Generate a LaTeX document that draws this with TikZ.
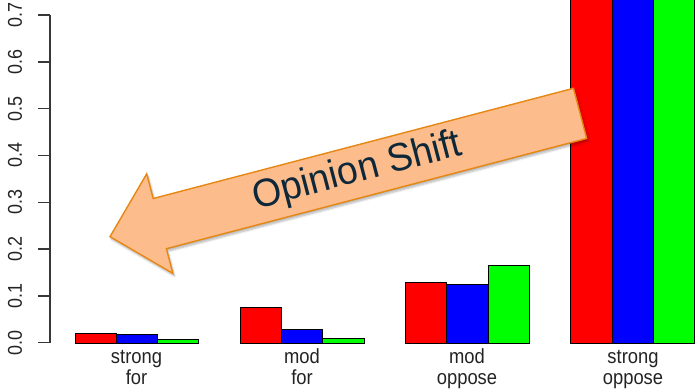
\documentclass[tikz,border=0pt]{standalone}
\usepackage{fontspec}
\setmainfont{Liberation Sans}
\usetikzlibrary{shadows.blur}
\definecolor{barred}{RGB}{255,0,0}
\definecolor{barblue}{RGB}{0,0,255}
\definecolor{bargreen}{RGB}{0,255,0}
\definecolor{axisgray}{RGB}{55,55,55}
\definecolor{labgray}{RGB}{35,35,35}
\definecolor{arrowfill}{RGB}{252,188,140}
\definecolor{arrowline}{RGB}{230,135,20}
\definecolor{shifttext}{RGB}{14,40,58}
\begin{document}
\begin{tikzpicture}[x=1bp,y=-1bp,
  barbox/.style={draw=black,line width=1bp},
  axisline/.style={draw=axisgray,line width=1.4bp},
  ticklab/.style={font=\fontsize{20}{20}\selectfont,text=labgray,rotate=90,inner sep=0pt},
  barlab/.style={font=\fontsize{20.5}{20.5}\selectfont,text=labgray,inner sep=0pt,anchor=base},
  shiftarrow/.style={fill=arrowfill,draw=arrowline,line width=1.4bp,line join=miter,
    blur shadow={shadow xshift=1.5bp,shadow yshift=-2.5bp,shadow blur steps=6,shadow opacity=30}},
  shiftlab/.style={font=\fontsize{39.5}{39.5}\selectfont,text=shifttext,inner sep=0pt}]
\useasboundingbox (0,0) rectangle (695,389);
\clip (0,0) rectangle (695,389);
% axis
\draw[axisline] (50,15) -- (50,342.7);
\foreach \v/\lab in {0/0.0,1/0.1,2/0.2,3/0.3,4/0.4,5/0.5,6/0.6,7/0.7}{
  \draw[axisline] (38,{342.7-\v*46.81}) -- (50,{342.7-\v*46.81});
  \node[ticklab] (tick\v) at (15,{342.7-\v*46.81}) {\scalebox{0.9}[1]{\lab}};
}
% bars
\foreach \x/\c/\t in {
  75/barred/333, 116.3/barblue/334.5, 157.6/bargreen/339.5,
  240.3/barred/307, 281.6/barblue/329.3, 322.9/bargreen/338,
  405.6/barred/282, 446.9/barblue/284.7, 488.2/bargreen/265.7,
  570.9/barred/-5, 612.2/barblue/-5, 653.5/bargreen/-5}{
  \draw[barbox,fill=\c] (\x,343) rectangle ({\x+41.3},\t);
}
% bar labels
\node[barlab] (g1a) at (136.5,363.3) {\scalebox{0.9}[1]{strong}};
\node[barlab] (g1b) at (136.5,384) {\scalebox{0.9}[1]{for}};
\node[barlab] (g2a) at (302,363.3) {\scalebox{0.9}[1]{mod}};
\node[barlab] (g2b) at (302,384) {\scalebox{0.9}[1]{for}};
\node[barlab] (g3a) at (467,363.3) {\scalebox{0.9}[1]{mod}};
\node[barlab] (g3b) at (467,384) {\scalebox{0.9}[1]{oppose}};
\node[barlab] (g4a) at (633,363.3) {\scalebox{0.9}[1]{strong}};
\node[barlab] (g4b) at (633,384) {\scalebox{0.9}[1]{oppose}};
% arrow
\draw[shiftarrow] (110,236.7) -- (146.7,173.8) -- (153.2,198.5) -- (573.5,88.3)
  -- (586.7,138.5) -- (166.4,248.7) -- (172.9,273.4) -- cycle;
\node[shiftlab,rotate=14.7] (shift) at (357.5,172) {\scalebox{0.95}[1]{Opinion Shift}};
\end{tikzpicture}
\end{document}
